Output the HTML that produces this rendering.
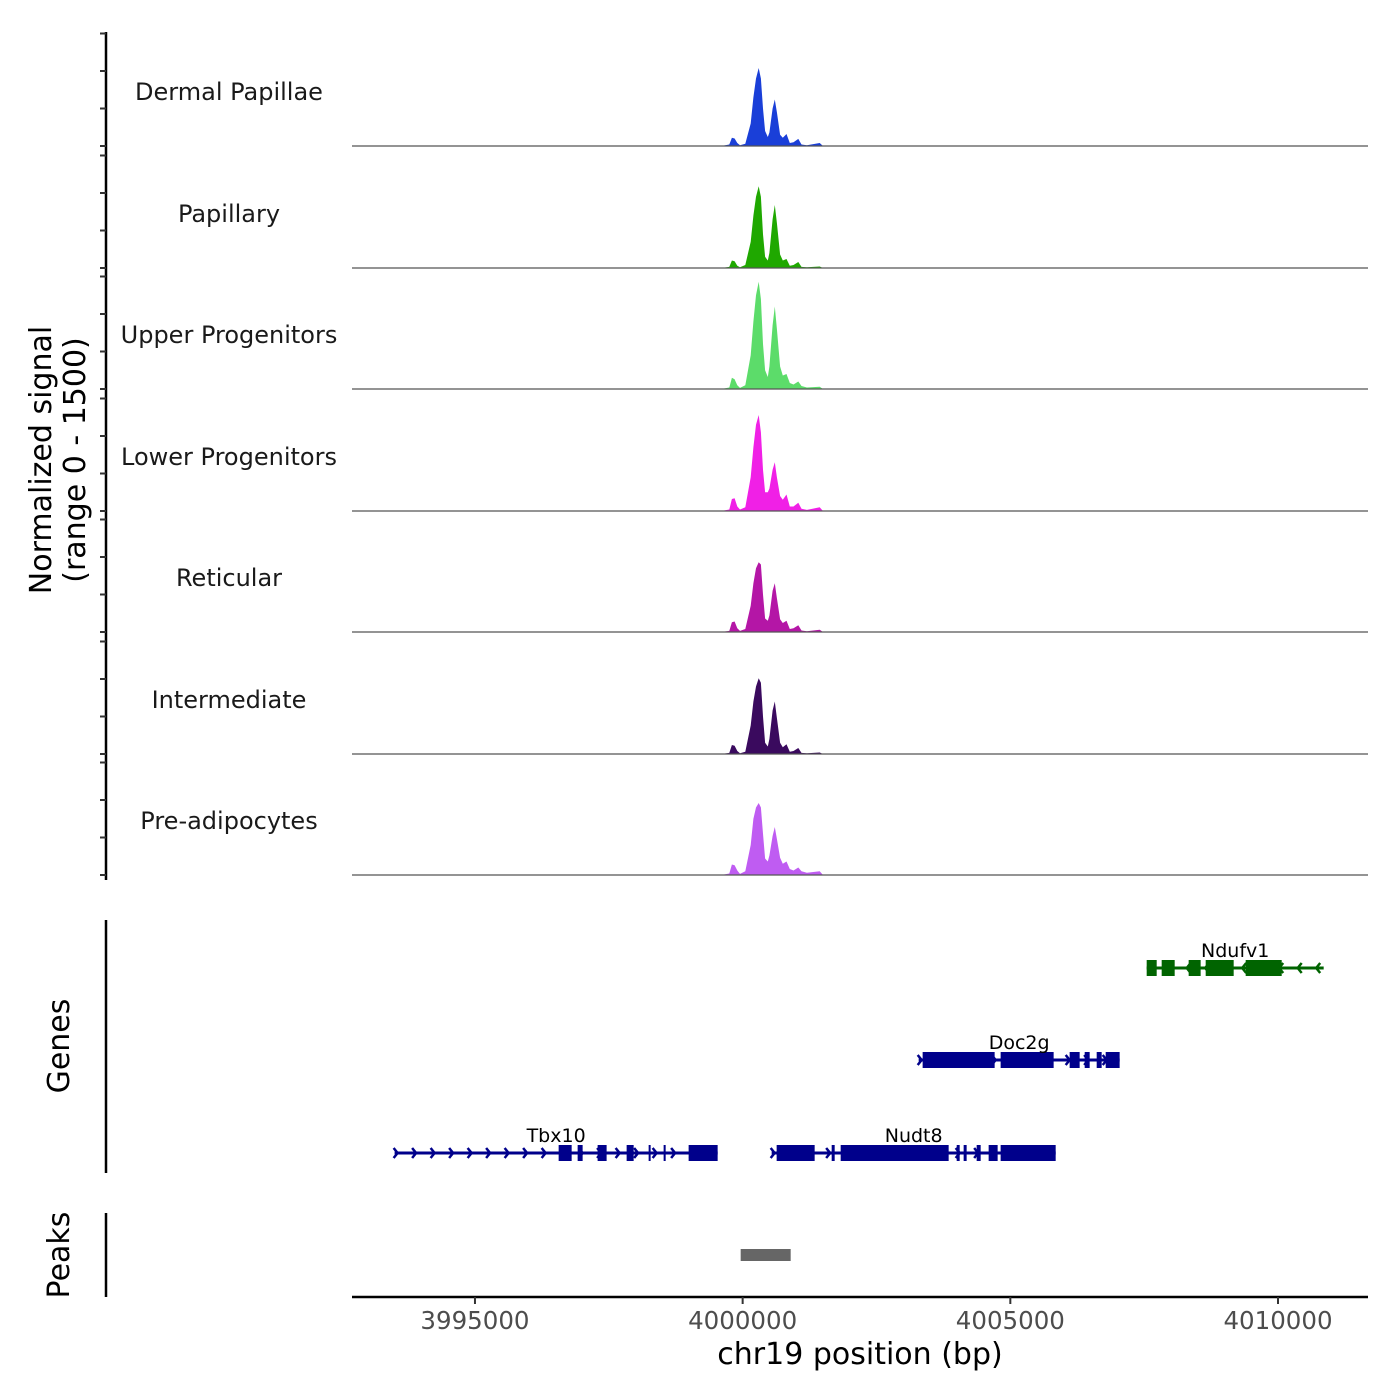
<!DOCTYPE html>
<html><head><meta charset="utf-8"><style>
html,body{margin:0;padding:0;background:#fff;}
svg{display:block;font-family:"DejaVu Sans","Liberation Sans",sans-serif;}
</style></head><body>
<svg id="chart" width="1400" height="1400" viewBox="0 0 1400 1400" xmlns="http://www.w3.org/2000/svg">
<g id="axes"></g>
</svg>
<script>
const tracks = ["Dermal Papillae","Papillary","Upper Progenitors","Lower Progenitors","Reticular","Intermediate","Pre-adipocytes"];
const trackColors = ["#1a3fd8","#1fa800","#5cdc6a","#f020e6","#b416a6","#3a0a5e","#bf5cf2"];
const positions = [3999600,3999750,3999800,3999850,3999900,3999950,4000050,4000150,4000200,4000250,4000300,4000340,4000380,4000420,4000470,4000500,4000560,4000600,4000640,4000700,4000750,4000820,4000880,4000950,4001040,4001100,4001200,4001440,4001500];
const sigDermal = [0,20,110,100,40,10,30,300,650,900,1040,900,500,200,120,180,500,620,450,150,110,160,40,50,95,20,10,40,0];
const sigPapillary = [0,15,100,90,30,10,40,350,700,950,1090,950,450,150,100,200,650,840,600,180,100,120,30,40,80,15,10,20,0];
const sigUpper = [0,20,150,130,50,15,50,450,900,1250,1430,1200,600,250,160,300,850,1100,800,300,180,200,80,60,100,40,20,30,0];
const sigLower = [0,20,160,170,60,20,50,450,850,1150,1280,1050,550,250,250,300,550,650,450,200,150,220,60,60,110,30,15,50,0];
const sigReticular = [0,15,130,140,50,15,40,350,650,850,930,900,500,180,150,220,550,650,450,170,120,150,40,50,90,20,10,30,0];
const sigIntermediate = [0,15,120,110,40,10,30,380,700,900,1010,950,500,150,100,200,580,700,480,150,90,130,30,40,80,15,10,20,0];
const sigPre = [0,20,140,130,60,15,50,400,750,900,960,900,550,220,180,260,520,640,480,230,150,180,80,60,100,50,30,50,0];
const signals = [sigDermal,sigPapillary,sigUpper,sigLower,sigReticular,sigIntermediate,sigPre];
const xTicks = [3995000,4000000,4005000,4010000];
const yTicks = [0,500,1000,1500];
const geneNames = ["Ndufv1","Doc2g","Tbx10","Nudt8"];
const geneStrands = ["-","+","+","+"];
const geneRows = [0,1,2,2];
const geneSpans = [[4007547,4010853],[4003288,4007042],[3993499,3999533],[4000542,4005847]];
const geneExons = [
 [[4007547,4007734],[4007827,4008070],[4008331,4008555],[4008649,4009172],[4009396,4010069]],
 [[4003362,4004707],[4004819,4005809],[4006108,4006295],[4006389,4006482],[4006613,4006706],[4006781,4007042]],
 [[3996563,3996806],[3996918,3997011],[3997291,3997459],[3997833,3997964],[3998244,3998281],[3998524,3998562],[3998991,3999533]],
 [[4000635,4001345],[4001663,4001719],[4001831,4003848],[4003998,4004054],[4004128,4004184],[4004371,4004446],[4004595,4004763],[4004819,4005847]]
];
const geneColors = ["#006400","#00008b","#00008b","#00008b"];
const peakStarts = [3999963];
const peakEnds = [4000897];

const NS="http://www.w3.org/2000/svg";
const svg=document.getElementById('chart');
const X0=352,X1=1368,BP0=3992703,BP1=4011681;
function xs(bp){return X0+(bp-BP0)/(BP1-BP0)*(X1-X0);}
const baselines=[146,268,389,511,632,754,875];
function ys(v,b){return b-v/1500*112.5;}
function mk(tag,attrs,parent){const e=document.createElementNS(NS,tag);for(const k in attrs)e.setAttribute(k,attrs[k]);(parent||svg).appendChild(e);return e;}

let e=mk('line',{x1:106,y1:32,x2:106,y2:880,stroke:'#000','stroke-width':2.5});


tracks.forEach((t,i)=>{
 const b=baselines[i];
 yTicks.forEach(v=>{
  const tk=mk('line',{x1:100,x2:106,y1:ys(v,b),y2:ys(v,b),stroke:'#333','stroke-width':2});
  
  
 });
 let d='M'+xs(positions[0])+','+b;
 positions.forEach((p,j)=>{d+=' L'+xs(p).toFixed(1)+','+ys(signals[i][j],b).toFixed(1);});
 d+=' L'+xs(positions[positions.length-1])+','+b+' Z';
 const pa=mk('path',{d:d,fill:trackColors[i],stroke:'none'});
 
 
 const bl=mk('line',{x1:X0,x2:X1,y1:b,y2:b,stroke:'#555','stroke-width':1.3});
 
 
 const lb=mk('text',{x:229,y:b-46,'text-anchor':'middle','font-size':24,fill:'#1a1a1a'});
 lb.textContent=t;
 
 
});
let t1=mk('text',{transform:'translate(51,460) rotate(-90)','text-anchor':'middle','font-size':30,fill:'#000'});
t1.textContent='Normalized signal';


let t2=mk('text',{transform:'translate(85,460) rotate(-90)','text-anchor':'middle','font-size':30,fill:'#000'});
t2.textContent='(range 0 - 1500)';



e=mk('line',{x1:106,y1:920,x2:106,y2:1173,stroke:'#000','stroke-width':2.5});


let gt=mk('text',{transform:'translate(69,1046) rotate(-90)','text-anchor':'middle','font-size':30,fill:'#000'});
gt.textContent='Genes';


const rowY=[968,1060,1153];
geneNames.forEach((g,i)=>{
 const y=rowY[geneRows[i]],c=geneColors[i];
 const grp=mk('g',{});
 
 
 const a=xs(geneSpans[i][0]),bb=xs(geneSpans[i][1]);
 mk('line',{x1:a,x2:bb,y1:y,y2:y,stroke:c,'stroke-width':3},grp);
 for(let x=a+3;x<bb-2;x+=18.5){
  const dir=geneStrands[i]=='+'?1:-1;
  mk('polyline',{points:(x-4*dir)+','+(y-5)+' '+x+','+y+' '+(x-4*dir)+','+(y+5),fill:'none',stroke:c,'stroke-width':2.5},grp);
 }
 geneExons[i].forEach(ex=>{
  const r=mk('rect',{x:xs(ex[0]),y:y-8,width:Math.max(2,xs(ex[1])-xs(ex[0])),height:16,fill:c},grp);
  
  
 });
 const lb=mk('text',{x:(a+bb)/2,y:y-11,'text-anchor':'middle','font-size':19,fill:'#000'},grp);
 lb.textContent=g;
});

e=mk('line',{x1:106,y1:1213,x2:106,y2:1297,stroke:'#000','stroke-width':2.5});


let pt=mk('text',{transform:'translate(69,1255) rotate(-90)','text-anchor':'middle','font-size':30,fill:'#000'});
pt.textContent='Peaks';


peakStarts.forEach((s,i)=>{
 const r=mk('rect',{x:xs(s),y:1249,width:xs(peakEnds[i])-xs(s),height:12,fill:'#666'});
 
 
});

e=mk('line',{x1:X0,x2:X1,y1:1297,y2:1297,stroke:'#000','stroke-width':2.5});


xTicks.forEach(v=>{
 const tk=mk('line',{x1:xs(v),x2:xs(v),y1:1297,y2:1304,stroke:'#333','stroke-width':2});
 
 
 const tl=mk('text',{x:xs(v),y:1329,'text-anchor':'middle','font-size':24.5,fill:'#4d4d4d'});
 tl.textContent=v;
 
 
});
let xt=mk('text',{x:860,y:1364,'text-anchor':'middle','font-size':30,fill:'#000'});
xt.textContent='chr19 position (bp)';


</script>
</body></html>
